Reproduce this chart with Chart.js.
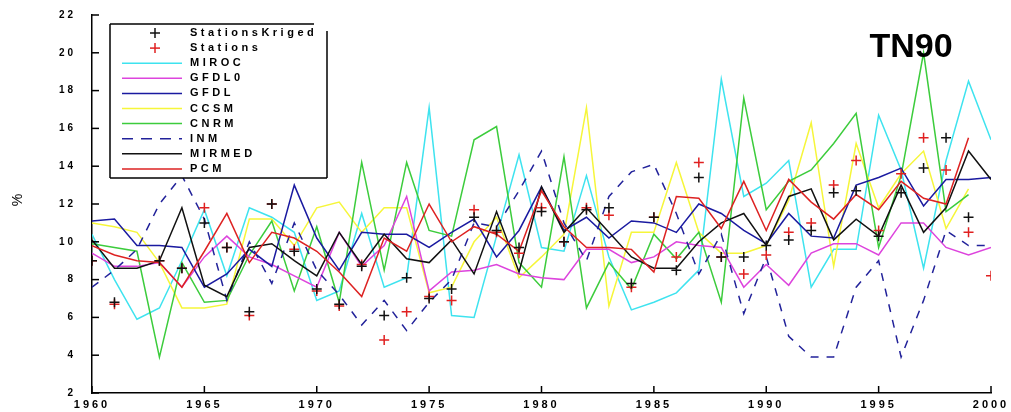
<!DOCTYPE html>
<html><head><meta charset="utf-8">
<script src="https://cdn.jsdelivr.net/npm/chart.js@4.4.1/dist/chart.umd.min.js"></script>
<style>html,body{margin:0;padding:0;background:#fff;overflow:hidden}canvas{display:block}</style>
</head><body>
<canvas id="c" width="1011" height="412"></canvas>
<script>
const years = [1960,1961,1962,1963,1964,1965,1966,1967,1968,1969,1970,1971,1972,1973,1974,1975,1976,1977,1978,1979,1980,1981,1982,1983,1984,1985,1986,1987,1988,1989,1990,1991,1992,1993,1994,1995,1996,1997,1998,1999,2000];
const xTicks = [1960,1965,1970,1975,1980,1985,1990,1995,2000];
const yTicks = [2,4,6,8,10,12,14,16,18,20,22];

const stationsKriged = [9.0,6.8,null,9.0,8.6,11.0,9.7,6.3,12.0,9.5,7.5,6.7,8.7,6.1,8.1,7.0,7.5,11.3,10.6,9.7,11.6,10.0,11.7,11.8,7.8,11.3,8.5,13.4,9.2,9.2,9.8,10.1,10.6,12.6,12.7,10.3,12.6,13.9,15.5,11.3,null];
const stations = [9.0,6.7,null,9.0,8.6,11.8,9.7,6.1,12.0,9.6,7.4,6.6,8.8,4.8,6.3,7.1,6.9,11.7,10.5,9.4,11.8,10.0,11.8,11.4,7.6,11.3,9.2,14.2,9.2,8.3,9.3,10.5,11.0,13.0,14.3,10.6,13.6,15.5,13.8,10.5,8.2];
const miroc = [10.4,8.0,5.9,6.5,9.0,11.7,8.2,11.8,11.3,10.5,6.9,7.4,11.5,7.6,8.1,17.1,6.1,6.0,10.3,14.6,9.7,9.5,13.5,9.2,6.4,6.8,7.3,8.5,18.6,12.4,13.1,14.3,7.6,9.6,9.6,16.7,13.8,8.6,14.3,18.5,15.4];
const gfdl0 = [9.4,8.7,8.7,8.9,7.6,9.2,10.3,9.2,8.8,8.2,7.6,10.5,8.7,9.8,12.4,7.4,8.4,8.5,8.8,8.3,8.1,8.0,9.6,9.6,8.9,9.2,10.0,9.8,9.7,7.6,8.8,7.7,9.4,9.9,9.9,9.3,11.0,11.0,9.7,9.3,9.7];
const gfdl = [11.1,11.2,9.8,9.8,9.7,7.6,8.3,9.6,8.7,13.0,10.2,8.5,10.5,10.4,10.4,9.7,10.5,11.2,9.2,10.6,12.9,10.6,11.3,10.2,11.1,11.0,10.5,12.0,11.5,10.6,9.9,11.5,10.3,10.2,13.0,13.4,13.9,11.9,13.3,13.3,13.4];
const ccsm = [11.0,10.8,10.5,8.9,6.5,6.5,6.7,11.2,11.2,9.8,11.8,12.1,10.5,11.8,11.8,7.3,7.6,10.0,11.3,8.1,9.2,10.4,17.1,6.6,10.5,10.5,14.2,10.5,9.4,9.4,9.8,12.2,16.3,8.7,15.2,11.8,13.6,14.8,10.7,12.8,null];
const cnrm = [9.9,9.7,9.5,3.9,8.9,6.8,6.9,9.3,11.1,7.4,10.8,6.8,14.2,8.5,14.2,10.6,10.3,15.4,16.1,8.9,7.6,14.5,6.5,8.9,7.5,10.4,9.1,10.5,6.8,17.6,11.7,13.2,13.8,15.2,16.8,9.7,13.5,20.0,11.6,12.5,null];
const inm = [7.6,8.5,9.6,12.0,13.5,11.2,6.9,10.0,7.8,11.0,8.5,7.2,5.6,6.9,5.3,6.8,8.0,11.0,10.8,12.7,14.8,11.0,9.0,12.4,13.7,14.1,11.5,8.3,10.4,6.2,9.2,5.0,3.9,3.9,7.6,9.0,3.9,6.9,10.6,9.8,9.8];
const mirmed = [10.1,8.6,8.6,9.0,11.8,7.7,7.1,9.7,9.9,9.0,8.2,10.5,8.8,10.4,9.1,8.9,10.1,8.3,11.6,8.4,12.9,10.5,11.8,10.5,9.2,8.6,8.6,10.0,11.0,11.5,9.8,12.4,12.8,10.1,11.2,10.3,13.0,10.5,11.8,14.8,13.3];
const pcm = [9.8,9.3,9.0,8.9,7.6,9.5,11.5,8.9,10.5,10.2,9.5,8.4,7.1,10.2,9.5,12.0,10.0,10.8,10.4,9.5,12.7,10.8,9.7,9.7,9.6,8.4,12.4,12.3,10.7,13.2,10.6,13.3,12.1,11.2,12.5,11.7,13.2,12.3,12.0,15.5,null];

const pts = arr => years.map((yr, i) => ({x: yr, y: arr[i]}));
const FONT = '"Liberation Sans", Arial, sans-serif';

function marker(label, arr, color, order) {
  return {label, data: pts(arr), showLine: false, pointStyle: 'cross', pointRadius: 5,
    pointBorderWidth: 1.5, borderColor: color, backgroundColor: color, order};
}
function series(label, arr, color, order, dash) {
  return {label, data: pts(arr), showLine: true, borderColor: color, backgroundColor: color,
    borderWidth: 1.5, pointRadius: 0, borderDash: dash || [], spanGaps: false, tension: 0, order};
}

const datasets = [
  marker('StationsKriged', stationsKriged, '#111111', 0),
  marker('Stations', stations, '#e02020', 1),
  series('MIROC', miroc, '#3ee3ef', 9),
  series('GFDL0', gfdl0, '#dd44dd', 6),
  series('GFDL', gfdl, '#1a1aa0', 4),
  series('CCSM', ccsm, '#f6f63a', 8),
  series('CNRM', cnrm, '#3ccc3c', 7),
  series('INM', inm, '#22229a', 5, [8, 8]),
  series('MIRMED', mirmed, '#111111', 3),
  series('PCM', pcm, '#dd2222', 2)
];

const deco = {
  id: 'deco',
  beforeDraw(chart) { chart.ctx.letterSpacing = '3px'; },
  afterDraw(chart) {
    const ctx = chart.ctx, a = chart.chartArea, xs = chart.scales.x, ys = chart.scales.y;
    ctx.save();
    ctx.letterSpacing = '0px';
    ctx.strokeStyle = '#000'; ctx.lineWidth = 1.5; ctx.setLineDash([]);
    const ln = (x1, y1, x2, y2) => { ctx.beginPath(); ctx.moveTo(x1, y1); ctx.lineTo(x2, y2); ctx.stroke(); };
    xs.ticks.forEach(t => { const p = xs.getPixelForValue(t.value); ln(p, a.bottom, p, a.bottom - 7); });
    ys.ticks.forEach(t => { const p = ys.getPixelForValue(t.value); ln(a.left, p, a.left + 7, p); });

    // legend box
    const L = 110, T = 24, R = 327, B = 178;
    ctx.fillStyle = '#fff'; ctx.fillRect(L, T, R - L, B - T);
    ctx.lineWidth = 1.5;
    ln(L, T, 314, T); ln(L, T, L, B); ln(L, B, R, B); ln(R, 31, R, B);
    ctx.font = 'bold 11px ' + FONT; ctx.textBaseline = 'middle'; ctx.textAlign = 'left';
    chart.data.datasets.forEach((ds, i) => {
      const yy = 33 + i * 15.1;
      ctx.strokeStyle = ds.borderColor;
      if (ds.showLine === false) {
        ctx.lineWidth = 1.5; ctx.setLineDash([]);
        ln(150, yy, 160, yy); ln(155, yy - 5, 155, yy + 5);
      } else {
        ctx.lineWidth = 1.5; ctx.setLineDash(ds.borderDash && ds.borderDash.length ? [11, 8] : []);
        ln(122, yy, 182, yy);
      }
      ctx.setLineDash([]);
      ctx.fillStyle = '#000'; ctx.letterSpacing = '3.5px';
      ctx.fillText(ds.label, 190, yy);
      ctx.letterSpacing = '0px';
    });

    // title
    ctx.fillStyle = '#000'; ctx.textAlign = 'center'; ctx.textBaseline = 'middle';
    ctx.font = 'bold 34px ' + FONT;
    ctx.fillText('TN90', 911, 48);
    // y axis title
    ctx.save();
    ctx.translate(18, 200); ctx.rotate(-Math.PI / 2);
    ctx.font = '14px ' + FONT;
    ctx.fillText('%', 0, 0);
    ctx.restore();
    ctx.restore();
  }
};

new Chart(document.getElementById('c'), {
  type: 'scatter',
  data: {datasets},
  options: {
    responsive: false, devicePixelRatio: 1, animation: false,
    layout: {padding: {top: 15, right: 20, left: 0, bottom: 0}},
    plugins: {legend: {display: false}, tooltip: {enabled: false}},
    scales: {
      x: {type: 'linear', min: xTicks[0], max: xTicks[xTicks.length - 1],
        afterFit: s => { s.height = 19; },
        afterBuildTicks: s => { s.ticks = xTicks.map(v => ({value: v})); },
        grid: {display: false}, border: {display: true, color: '#000', width: 1.5},
        ticks: {padding: -3, color: '#000', font: {family: FONT, size: 11, weight: 'bold'}, maxRotation: 0, callback: v => String(v)}},
      y: {type: 'linear', min: yTicks[0], max: yTicks[yTicks.length - 1],
        afterFit: s => { s.width = 92; },
        afterBuildTicks: s => { s.ticks = yTicks.map(v => ({value: v})); },
        grid: {display: false}, border: {display: true, color: '#000', width: 1.5},
        ticks: {padding: 8, color: '#000', font: {family: FONT, size: 10, weight: 'bold'}, callback: v => String(v)}}
    }
  },
  plugins: [deco]
});
</script>
</body></html>
